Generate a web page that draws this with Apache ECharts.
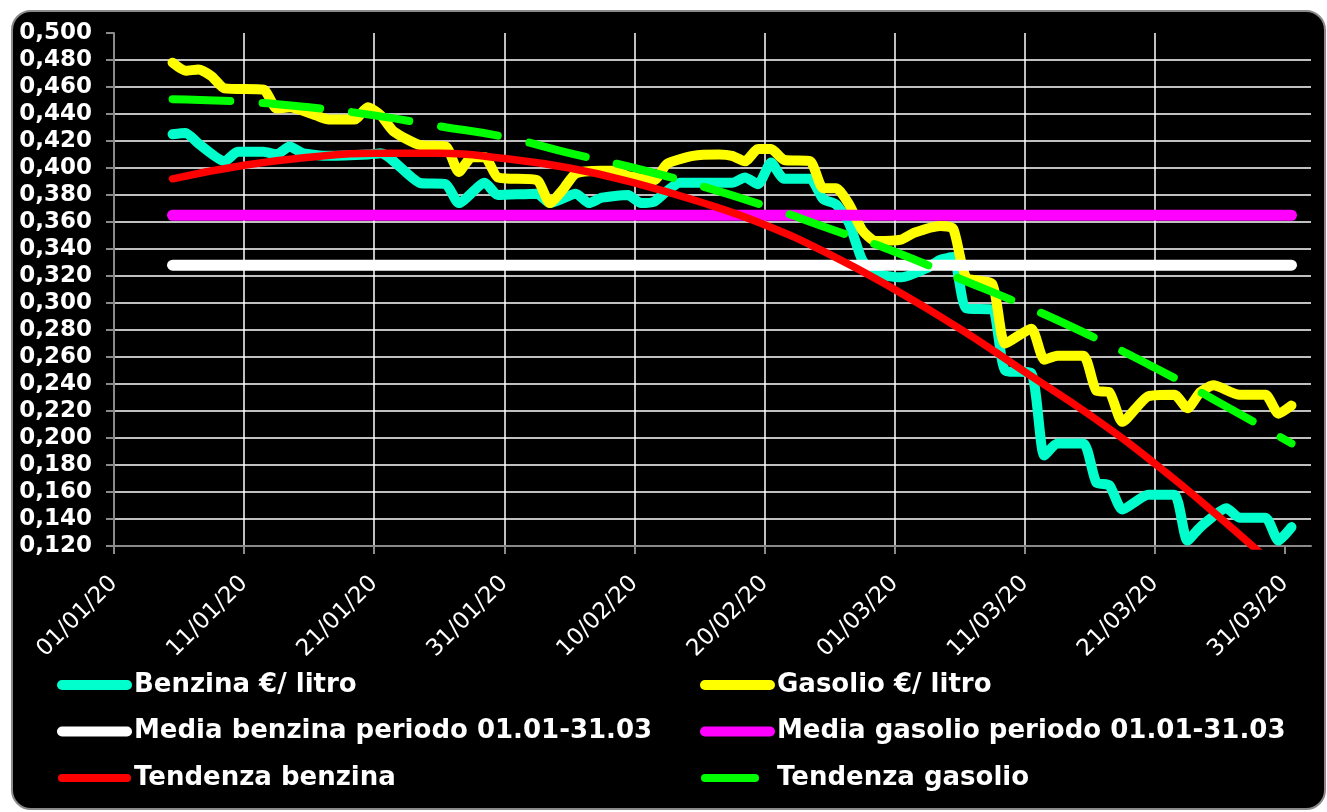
<!DOCTYPE html>
<html>
<head>
<meta charset="utf-8">
<title>Benzina e gasolio 01.01-31.03</title>
<script src="https://cdn.jsdelivr.net/npm/echarts@6/dist/echarts.min.js"></script>
<style>
    html, body { margin: 0; padding: 0; background: #fff; }
    .card {
        position: absolute; left: 11px; top: 10px;
        width: 1311px; height: 796px;
        background: #000; border: 2px solid #8a8a8a; border-radius: 20px;
    }
    .chart { position: absolute; left: 0; top: 0; width: 1327px; height: 812px; }
</style>
</head>
<body>
<div class="card"></div>
<div class="chart" id="chart"></div>
<script>
// giorni contati dal 01/01/20 (0 = 01/01), il punto di un giorno sta a metà casella
const benzina = [
    [4.5, 0.425], [5.5, 0.426], [6.5, 0.418], [8.5, 0.405], [9.5, 0.412], [11.5, 0.412],
    [12.5, 0.410], [13.5, 0.416], [14.5, 0.411], [16.5, 0.409], [19.5, 0.410], [20.5, 0.411],
    [23.5, 0.389], [25.5, 0.388], [26.5, 0.374], [28.5, 0.389], [29.5, 0.380], [32.5, 0.381],
    [33.5, 0.374], [35.5, 0.381], [36.5, 0.374], [37.5, 0.378], [39.5, 0.380], [40.5, 0.374],
    [41.5, 0.375], [42.5, 0.383], [43.5, 0.389], [46.5, 0.389], [47.5, 0.389], [48.5, 0.393],
    [49.5, 0.388], [50.5, 0.404], [51.5, 0.392], [53.5, 0.392], [54.5, 0.377], [55.5, 0.373],
    [56.5, 0.359], [57.5, 0.332], [58.5, 0.322], [60.5, 0.319], [62.5, 0.326], [63.5, 0.332],
    [64.5, 0.334], [65.5, 0.296], [67.5, 0.295], [68.5, 0.250], [70.5, 0.248], [71.5, 0.187],
    [72.5, 0.196], [74.5, 0.196], [75.5, 0.167], [76.5, 0.165], [77.5, 0.147], [79.5, 0.158],
    [81.5, 0.158], [82.5, 0.124], [83.5, 0.134], [85.5, 0.148], [86.5, 0.141], [88.5, 0.141],
    [89.5, 0.124], [90.5, 0.134]
];
const gasolio = [
    [4.5, 0.478], [5.5, 0.472], [6.5, 0.473], [7.5, 0.468], [8.5, 0.459], [11.5, 0.458],
    [12.5, 0.444], [13.5, 0.445], [15.5, 0.439], [16.5, 0.436], [18.5, 0.436], [19.5, 0.445],
    [20.5, 0.439], [21.5, 0.427], [23.5, 0.417], [25.5, 0.416], [26.5, 0.397], [27.5, 0.408],
    [28.5, 0.408], [29.5, 0.393], [32.5, 0.391], [33.5, 0.374], [34.5, 0.384], [35.5, 0.396],
    [37.5, 0.398], [38.5, 0.398], [39.5, 0.394], [41.5, 0.391], [42.5, 0.403], [44.5, 0.409],
    [46.5, 0.410], [47.5, 0.409], [48.5, 0.405], [49.5, 0.414], [50.5, 0.414], [51.5, 0.406],
    [53.5, 0.405], [54.5, 0.385], [55.5, 0.385], [56.5, 0.373], [57.5, 0.354], [58.5, 0.346],
    [60.5, 0.347], [61.5, 0.352], [63.5, 0.357], [64.5, 0.355], [65.5, 0.319], [67.5, 0.314],
    [68.5, 0.270], [70.5, 0.281], [71.5, 0.258], [72.5, 0.261], [74.5, 0.261], [75.5, 0.235],
    [76.5, 0.234], [77.5, 0.212], [79.5, 0.231], [81.5, 0.232], [82.5, 0.222], [83.5, 0.234],
    [84.5, 0.239], [86.5, 0.232], [88.5, 0.232], [89.5, 0.218], [90.5, 0.224]
];

const mediaGiorni = [4.5, 90.5];
const mediaBenzina = [0.328, 0.328];
const mediaGasolio = [0.365, 0.365];

const trendGiorni = [4.5, 10, 15, 20, 25, 30, 35, 40, 45, 50, 55, 60, 65, 70, 75, 80, 85, 90.5];
const tendenzaBenzina = [0.392, 0.402, 0.408, 0.411, 0.411, 0.407, 0.400, 0.389, 0.375,
    0.358, 0.336, 0.310, 0.281, 0.249, 0.217, 0.181, 0.141, 0.094];
const tendenzaGasolio = [0.451, 0.449, 0.445, 0.439, 0.431, 0.423, 0.411, 0.400, 0.387,
    0.372, 0.355, 0.338, 0.318, 0.298, 0.276, 0.252, 0.226, 0.196];

const tickGiorni = [0, 10, 20, 30, 40, 50, 60, 70, 80, 90];

const nomi = [
    'Benzina €/ litro', 'Gasolio €/ litro',
    'Media benzina periodo 01.01-31.03', 'Media gasolio periodo 01.01-31.03',
    'Tendenza benzina', 'Tendenza gasolio'
];

function zip(xs, ys) {
    return xs.map((x, i) => [x, ys[i]]);
}

function dataLabel(v) {
    let d = new Date(2020, 0, 1 + Math.round(v));
    let dd = String(d.getDate()).padStart(2, '0');
    let mm = String(d.getMonth() + 1).padStart(2, '0');
    return dd + '/' + mm + '/' + String(d.getFullYear()).slice(2);
}

let chart = echarts.init(document.getElementById('chart'));

const grigio = '#8a8a8a';
const font = 'DejaVu Sans, Verdana, sans-serif';

function linea(name, data, color, width, extra) {
    return Object.assign({
        type: 'line',
        name: name,
        data: data,
        symbol: 'none',
        showSymbol: false,
        lineStyle: { color: color, width: width, cap: 'round', join: 'round' },
        itemStyle: { color: color }
    }, extra || {});
}

function legenda(left, names, widths, dashes) {
    dashes = dashes || [];
    return {
        orient: 'vertical',
        left: left,
        top: 665,
        itemWidth: 65,
        itemHeight: 30,
        itemGap: 16.5,
        selectedMode: false,
        textStyle: {
            color: '#fff',
            fontFamily: font,
            fontWeight: 'bold',
            fontSize: 26,
            lineHeight: 30,
            padding: [0, 0, 0, 2]
        },
        data: names.map((n, i) => ({
            name: n,
            itemStyle: { opacity: 0 },
            lineStyle: { width: widths[i], cap: 'round', type: dashes[i] || 'solid' }
        }))
    };
}

let option = {
    backgroundColor: 'transparent',
    animation: false,
    grid: { left: 114, right: 16, top: 33, bottom: 266 },
    legend: [
        legenda(52, [nomi[0], nomi[2], nomi[4]], [10, 10, 8]),
        legenda(695, [nomi[1], nomi[3], nomi[5]], [10, 10, 8], [null, null, [50, 30]])
    ],
    xAxis: {
        type: 'value',
        min: 0,
        max: 92,
        interval: 5,
        axisLine: { show: true, lineStyle: { color: grigio, width: 2 } },
        axisTick: { show: true, length: 8, customValues: tickGiorni, lineStyle: { color: grigio, width: 2 } },
        axisLabel: {
            customValues: tickGiorni,
            rotate: 45,
            margin: 34,
            color: '#fff',
            fontFamily: font,
            fontSize: 23,
            formatter: v => (Math.round(v) % 10 === 0 ? dataLabel(v) : '')
        },
        splitLine: {
            show: true,
            showMinLine: false,
            showMaxLine: false,
            lineStyle: { color: '#fff', width: 1.5 }
        }
    },
    yAxis: {
        type: 'value',
        min: 0.12,
        max: 0.5,
        interval: 0.02,
        axisLine: { show: true, lineStyle: { color: grigio, width: 2 } },
        axisTick: { show: true, length: 8, lineStyle: { color: grigio, width: 2 } },
        axisLabel: {
            margin: 22,
            color: '#fff',
            fontFamily: font,
            fontWeight: 'bold',
            fontSize: 23,
            formatter: v => v.toFixed(3).replace('.', ',')
        },
        splitLine: {
            show: true,
            showMinLine: false,
            showMaxLine: false,
            lineStyle: { color: '#fff', width: 1.5 }
        }
    },
    series: [
        linea(nomi[0], benzina, '#00ffcc', 10, { smooth: 0.2 }),
        linea(nomi[1], gasolio, '#ffff00', 10, { smooth: 0.2 }),
        linea(nomi[2], zip(mediaGiorni, mediaBenzina), '#ffffff', 11),
        linea(nomi[3], zip(mediaGiorni, mediaGasolio), '#ff00ff', 11),
        linea(nomi[4], zip(trendGiorni, tendenzaBenzina), '#ff0000', 7.5, { smooth: true }),
        linea(nomi[5], zip(trendGiorni, tendenzaGasolio), '#00ff00', 8, { smooth: true })
    ]
};
option.series[5].lineStyle.type = [58, 32];

chart.setOption(option);
</script>
</body>
</html>
